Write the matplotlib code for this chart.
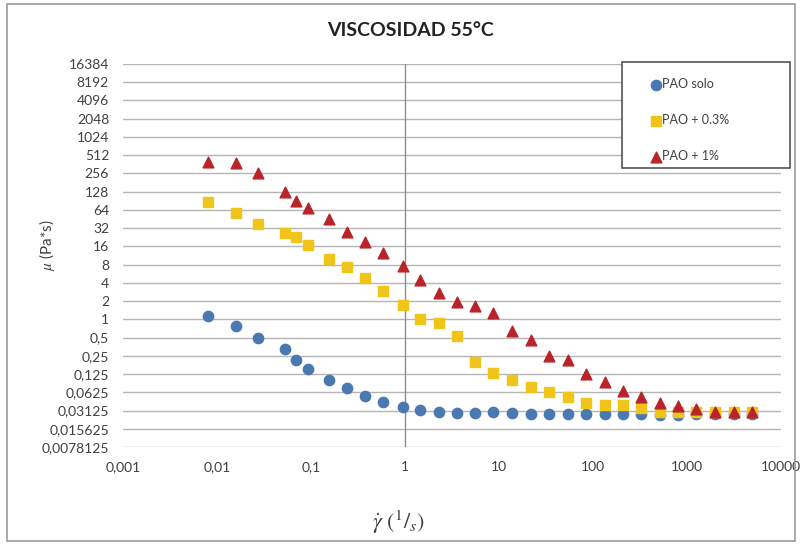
import numpy as np
import matplotlib
matplotlib.use('Agg')
from matplotlib import pyplot as plt
from matplotlib.patches import Rectangle

plt.rcParams['font.family'] = ['Lato', 'DejaVu Sans']
plt.rcParams['mathtext.fontset'] = 'stix'

# velocidad de corte (1/s)
shear = [0.0081, 0.0159, 0.0273, 0.053, 0.069, 0.093, 0.155, 0.241, 0.375, 0.58,
         0.95, 1.44, 2.3, 3.57, 5.55, 8.6, 13.7, 21.8, 34, 54,
         84, 134, 208, 324, 518, 800, 1260, 1990, 3140, 4940]

# viscosidad (Pa*s)
pao_solo = [1.12, 0.77, 0.50, 0.33, 0.21, 0.15, 0.10, 0.073, 0.054, 0.043,
            0.036, 0.0315, 0.030, 0.028, 0.028, 0.029, 0.028, 0.0275, 0.0275, 0.0275,
            0.0275, 0.027, 0.0275, 0.027, 0.026, 0.026, 0.027, 0.0275, 0.0275, 0.0275]
pao_03 = [85, 56, 38, 27, 22.6, 16.6, 9.8, 7.2, 4.9, 2.9,
          1.7, 1.02, 0.86, 0.54, 0.195, 0.128, 0.099, 0.076, 0.0625, 0.052,
          0.041, 0.038, 0.038, 0.035, 0.030, 0.029, 0.029, 0.029, 0.029, 0.029]
pao_1 = [390, 375, 256, 125, 89, 68, 45, 28, 18.6, 12.3,
         7.5, 4.5, 2.7, 1.9, 1.64, 1.26, 0.63, 0.45, 0.245, 0.21,
         0.125, 0.092, 0.065, 0.052, 0.041, 0.037, 0.033, 0.030, 0.030, 0.030]

series_names = ['PAO solo', 'PAO + 0.3%', 'PAO + 1%']

x_ticks = [0.001, 0.01, 0.1, 1, 10, 100, 1000, 10000]
x_labels = ['0,001', '0,01', '0,1', '1', '10', '100', '1000', '10000']
y_ticks = [2.0 ** k for k in range(-7, 15)]
y_labels = ['0,0078125', '0,015625', '0,03125', '0,0625', '0,125', '0,25', '0,5',
            '1', '2', '4', '8', '16', '32', '64', '128', '256', '512',
            '1024', '2048', '4096', '8192', '16384']

fig = plt.figure(figsize=(8.01, 5.46), dpi=100)
ax = fig.add_axes([123 / 801, 1 - 447 / 546, 658 / 801, 383 / 546])

# borde del grafico
fig.patches.append(Rectangle((7 / 801, 5 / 546), 788 / 801, 537 / 546,
                             transform=fig.transFigure, fill=False,
                             edgecolor='#9a9a9a', linewidth=1.2))
# marco de la leyenda
fig.patches.append(Rectangle((622 / 801, 1 - 168 / 546), 168 / 801, 106 / 546,
                             transform=fig.transFigure, facecolor='white',
                             edgecolor='#555555', linewidth=1.2, zorder=5))

ax.set_xscale('log')
ax.set_yscale('log', base=2)
ax.set_xlim(0.001, 10000)
ax.set_ylim(2.0 ** -7, 2.0 ** 14)

for v in y_ticks:
    ax.axhline(v, color='#b5b5b5', linewidth=1.0, zorder=1)
ax.axvline(1, color='#8c8c8c', linewidth=1.0, zorder=1)

ax.scatter(shear, pao_solo, marker='o', s=55, color='#4a78b0', label=series_names[0], zorder=3)
ax.scatter(shear, pao_03, marker='s', s=50, color='#f0c419', label=series_names[1], zorder=3)
ax.scatter(shear, pao_1, marker='^', s=60, color='#b8242a', label=series_names[2], zorder=4)

ax.set_xticks(x_ticks)
ax.set_xticklabels(x_labels, fontsize=10, color='#404040')
ax.set_yticks(y_ticks)
ax.set_yticklabels(y_labels, fontsize=10, color='#404040')
ax.minorticks_off()
ax.tick_params(length=0, pad=10)
for s in ax.spines.values():
    s.set_visible(False)

fig.text(410 / 801, 1 - 30 / 546, 'VISCOSIDAD 55°C', ha='center', va='center',
         fontsize=14, fontweight='bold', color='#222222')
fig.text(47 / 801, 1 - 245 / 546, r'$\mu$ (Pa*s)', ha='center', va='center',
         rotation=90, fontsize=11, color='#404040')
fig.text(398 / 801, 1 - 522 / 546, r'$\dot{\gamma}\ (^1/_s)$', ha='center', va='center',
         fontsize=16, color='#404040')

leg = fig.legend(loc='upper left', bbox_to_anchor=(640 / 801, 1 - 66 / 546),
                 fontsize=9, labelspacing=1.9, handlelength=0.6, handletextpad=0.2,
                 borderpad=1.0, borderaxespad=0, frameon=False, scatterpoints=1)
leg.set_zorder(6)
for t in leg.get_texts():
    t.set_color('#404040')

fig.savefig('out.png', dpi=100)
